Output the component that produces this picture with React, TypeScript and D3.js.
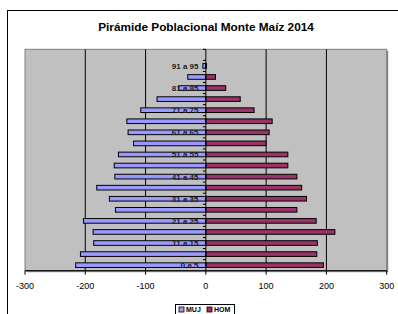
import React from 'react'
import * as d3 from 'd3'

// grupos de edad (el último no lleva valores visibles)
const ageGroups = [
  '0 a 5', '6 a 10', '11 a 15', '16 a 20', '21 a 25', '26 a 30', '31 a 35', '36 a 40',
  '41 a 45', '46 a 50', '51 a 55', '56 a 60', '61 a 65', '66 a 70', '71 a 75', '76 a 80',
  '81 a 85', '86 a 90', '91 a 95', '96 y más',
]
// mujeres (negativo) y hombres
const muj = [-216, -208, -186, -187, -203, -150, -160, -181, -151, -152, -145, -120, -129, -131, -108, -81, -45, -30, -5, 0]
const hom = [195, 184, 185, 214, 183, 151, 167, 159, 151, 136, 136, 100, 105, 110, 80, 57, 33, 16, 1, 0]
const xTicks = [-300, -200, -100, 0, 100, 200, 300]
const seriesNames = ['MUJ', 'HOM']
const colors = ['#9999FF', '#993366']

const W = 398
const H = 314
const plot = { left: 25, right: 386.7, top: 49.3, bottom: 270.7 }

export default function App() {
  const x = d3.scaleLinear().domain([-300, 300]).range([plot.left, plot.right])
  const y = d3.scaleBand<string>().domain(ageGroups).range([plot.bottom, plot.top]).padding(0)
  const bw = y.bandwidth()
  const barH = bw * 0.42
  const font = 'Arial, "Liberation Sans", sans-serif'

  return (
    <svg width={W} height={H} style={{ position: 'absolute', left: 0, top: 0, background: '#fff' }}
      fontFamily={font}>
      {/* marco del gráfico */}
      <rect x={7.5} y={10.5} width={W + 10} height={H + 10} fill="#fff" stroke="#000" strokeWidth={1} />
      <text x={206} y={30.5} textAnchor="middle" fontSize={11.8} fontWeight="bold">
        Pirámide Poblacional Monte Maíz 2014
      </text>

      {/* área de trazado */}
      <rect x={plot.left + 1.5} y={plot.top + 1.5} width={plot.right - plot.left} height={plot.bottom - plot.top}
        fill="#808080" />
      <rect x={plot.left} y={plot.top} width={plot.right - plot.left} height={plot.bottom - plot.top}
        fill="#C0C0C0" stroke="#808080" strokeWidth={1} />

      {/* líneas de división */}
      {xTicks.filter(t => t !== 0 && Math.abs(t) !== 300).map(t => (
        <line key={t} x1={x(t)} x2={x(t)} y1={plot.top} y2={plot.bottom} stroke="#000" strokeWidth={1} />
      ))}

      {/* barras */}
      {ageGroups.map((g, i) => {
        const cy = (y(g) as number) + bw / 2
        return (
          <g key={g}>
            <rect x={x(muj[i])} y={cy - barH / 2} width={x(0) - x(muj[i])} height={barH}
              fill={colors[0]} stroke="#000" strokeWidth={1} />
            <rect x={x(0)} y={cy - barH / 2} width={x(hom[i]) - x(0)} height={barH}
              fill={colors[1]} stroke="#000" strokeWidth={1} />
          </g>
        )
      })}

      {/* eje vertical */}
      <line x1={x(0)} x2={x(0)} y1={plot.top} y2={plot.bottom} stroke="#000" strokeWidth={1} />
      {ageGroups.map(g => (
        <line key={'t' + g} x1={x(0) - 3} x2={x(0)} y1={y(g) as number} y2={y(g) as number}
          stroke="#000" strokeWidth={1} />
      ))}
      {ageGroups.map((g, i) => i % 2 === 0 ? (
        <text key={'l' + g} x={198.5} y={(y(g) as number) + bw / 2 + 3} textAnchor="end"
          fontSize={8} fontWeight="bold" fill="#222">{g}</text>
      ) : null)}

      {/* eje horizontal */}
      <line x1={plot.left} x2={plot.right} y1={plot.bottom} y2={plot.bottom} stroke="#000" strokeWidth={1} />
      {xTicks.map(t => (
        <g key={'x' + t}>
          <line x1={x(t)} x2={x(t)} y1={plot.bottom} y2={plot.bottom + 4} stroke="#000" strokeWidth={1} />
          <text x={x(t)} y={289} textAnchor="middle" fontSize={9}>{t}</text>
        </g>
      ))}

      {/* leyenda */}
      <rect x={175.5} y={304.5} width={59} height={14} fill="#fff" stroke="#000" strokeWidth={1} />
      {seriesNames.map((s, i) => (
        <g key={s} transform={`translate(${179 + i * 28},307)`}>
          <rect x={0} y={0} width={5} height={5} fill={colors[i]} stroke="#000" strokeWidth={0.8} />
          <text x={7} y={5.2} fontSize={7} fontWeight="bold">{s}</text>
        </g>
      ))}
    </svg>
  )
}
